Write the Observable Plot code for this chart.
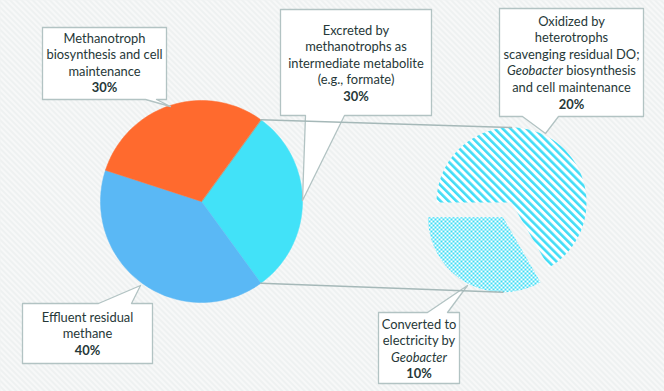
<!DOCTYPE html>
<html><head><meta charset="utf-8">
<script src="https://cdn.jsdelivr.net/npm/d3@7"></script>
<script src="https://cdn.jsdelivr.net/npm/@observablehq/plot@0.6"></script>
<style>
html,body{margin:0;padding:0;background:#f1f3f3;overflow:hidden;}
</style>
</head><body><div id="chart"></div>
<script>
// ---- data ----
const mainCategories = ["Excreted by methanotrophs as intermediate metabolite (e.g., formate)", "Effluent residual methane", "Methanotroph biosynthesis and cell maintenance"];
const mainValues = [30, 40, 30];
const mainColors = ["#42e2f8", "#5ab8f5", "#ff6a2e"];
const subCategories = ["Converted to electricity by Geobacter", "Oxidized by heterotrophs scavenging residual DO; Geobacter biosynthesis and cell maintenance"];
const subValues = [10, 20];
const subFills = ["url(#dots)", "url(#hatch)"];
const labelLines = [
  ["Methanotroph", "biosynthesis and cell", "maintenance"],
  ["Excreted by", "methanotrophs as", "intermediate metabolite", "(e.g., formate)"],
  ["Oxidized by", "heterotrophs", "scavenging residual DO;", "Geobacter biosynthesis", "and cell maintenance"],
  ["Effluent residual", "methane"],
  ["Converted to", "electricity by", "Geobacter"]
];
const labelPercents = ["30%", "30%", "20%", "40%", "10%"];

// ---- layout ----
const W = 664, H = 391;
const mainC = [201, 201], mainR = 101;
const subC = [511, 202], subR = 75, explode = 17;
const deg = Math.PI / 180;
// callout boxes: [x0, y0, x1, y1, side, baseL, baseR, tipX, tipY, textCx, firstLineY]
const boxes = [
  [42, 27, 166, 99, "bottom", 145, 156, 170, 106, 104, 38],
  [280, 9, 431, 115, "bottom", 305, 344, 302, 200, 355.5, 30],
  [499, 8, 643, 116, "bottom", 522, 558, 545, 133, 571, 21],
  [22, 303, 152, 363, "top", 98, 131, 140, 285, 87, 317],
  [378, 312, 459, 383, "top", 427, 447, 467, 285, 418.5, 324]
];
const lineGap = 16.6;

function arcPoly(cx, cy, r, a0, a1, id) {
  const n = Math.max(8, Math.ceil((a1 - a0) / deg / 2));
  const pts = [{id, x: cx, y: cy}];
  for (let i = 0; i <= n; i++) {
    const a = a0 + (a1 - a0) * i / n;
    pts.push({id, x: cx + r * Math.sin(a), y: cy - r * Math.cos(a)});
  }
  return pts;
}

const mainArcs = d3.pie().sort(null).startAngle(36 * deg).endAngle(36 * deg + 2 * Math.PI)(mainValues);
const subArcs = d3.pie().sort(null).startAngle(150 * deg).endAngle(150 * deg + 2 * Math.PI)(subValues);

const mainSlices = mainArcs.map((a, i) => arcPoly(mainC[0], mainC[1], mainR, a.startAngle, a.endAngle, mainCategories[i]));
const subCenters = subArcs.map((a, i) => {
  if (i === 0) {
    const mid = (a.startAngle + a.endAngle) / 2;
    return [subC[0] + explode * Math.sin(mid), subC[1] - explode * Math.cos(mid)];
  }
  return subC;
});
const subSlices = subArcs.map((a, i) => arcPoly(subCenters[i][0], subCenters[i][1], subR, a.startAngle, a.endAngle, subCategories[i]));

// connectors from the excreted slice to the secondary pie
const exc = mainArcs[0];
const connectors = [
  {id: "top", x: mainC[0] + mainR * Math.sin(exc.startAngle), y: mainC[1] - mainR * Math.cos(exc.startAngle)},
  {id: "top", x: subC[0], y: subC[1] - subR},
  {id: "bot", x: mainC[0] + mainR * Math.sin(exc.endAngle), y: mainC[1] - mainR * Math.cos(exc.endAngle)},
  {id: "bot", x: subCenters[0][0], y: subCenters[0][1] + subR}
];

const boxPolys = boxes.flatMap((b, i) => {
  const [x0, y0, x1, y1, side, bl, br, tx, ty] = b;
  const p = side === "bottom"
    ? [[x0, y0], [x1, y0], [x1, y1], [br, y1], [tx, ty], [bl, y1], [x0, y1]]
    : [[x0, y0], [bl, y0], [tx, ty], [br, y0], [x1, y0], [x1, y1], [x0, y1]];
  return p.map(([x, y]) => ({id: i, x, y}));
});

const textRows = [], pctRows = [];
boxes.forEach((b, i) => {
  const cx = b[9], y0 = b[10];
  labelLines[i].forEach((t, j) => textRows.push({x: cx, y: y0 + j * lineGap, t}));
  pctRows.push({x: cx, y: y0 + labelLines[i].length * lineGap, t: labelPercents[i]});
});

const marks = [
  Plot.frame({fill: "url(#bg)", stroke: "none"}),
  Plot.line(mainSlices.flat(), {x: "x", y: "y", z: "id", fill: "#7a8a8a", stroke: "none", curve: "linear-closed", ariaLabel: "shadow", dx: 2, dy: 3}),
  ...subSlices.map(s => Plot.line(s, {x: "x", y: "y", fill: "#7a8a8a", stroke: "none", curve: "linear-closed", ariaLabel: "shadow", dx: 2, dy: 3})),
  ...mainSlices.map((s, i) => Plot.line(s, {x: "x", y: "y", fill: mainColors[i], stroke: mainColors[i], strokeWidth: 0.5, curve: "linear-closed"})),
  ...subSlices.map((s, i) => Plot.line(s, {x: "x", y: "y", fill: subFills[i], stroke: "none", curve: "linear-closed"})),
  Plot.line(boxPolys, {x: "x", y: "y", z: "id", fill: "white", stroke: "#b2c3c3", strokeWidth: 1.3, curve: "linear-closed"}),
  Plot.line(connectors, {x: "x", y: "y", z: "id", stroke: "#a5b8b8", strokeWidth: 1.6}),
  Plot.text(textRows, {x: "x", y: "y", text: "t", fill: "#263838", fontSize: 12.9, fontFamily: "Lato"}),
  Plot.text(pctRows, {x: "x", y: "y", text: "t", fill: "#263838", fontSize: 12.9, fontWeight: "bold", fontFamily: "Lato"})
];

const svg = Plot.plot({
  width: W, height: H,
  margin: 0,
  x: {domain: [0, W], range: [0, W], axis: null},
  y: {domain: [0, H], range: [0, H], axis: null},
  style: {background: "#f1f3f3", fontFamily: "Lato"},
  marks
});

const defs = d3.select(svg).insert("defs", ":first-child");
defs.html(`
<filter id="blur" x="-20%" y="-20%" width="140%" height="140%"><feGaussianBlur stdDeviation="5"/></filter>
<pattern id="bg" patternUnits="userSpaceOnUse" width="4" height="4" patternTransform="rotate(-45)">
  <rect width="4" height="4" fill="#eef1f1"/><rect width="2" height="4" fill="#f7f8f8"/>
</pattern>
<pattern id="hatch" patternUnits="userSpaceOnUse" width="5.6" height="5.6" patternTransform="rotate(-45)">
  <rect width="5.6" height="5.6" fill="#ffffff"/><rect width="2.6" height="5.6" fill="#42ddf6"/>
</pattern>
<pattern id="dots" patternUnits="userSpaceOnUse" width="4" height="4">
  <rect width="4" height="4" fill="#ffffff"/>
  <rect x="0" y="0" width="2" height="2" fill="#3fdcf5"/>
  <rect x="2" y="2" width="2" height="2" fill="#3fdcf5"/>
</pattern>`);
d3.select(svg).selectAll('g[aria-label="shadow"]').attr("filter", "url(#blur)").attr("opacity", 0.4);
d3.select(svg).selectAll("text").each(function() {
  const t = this.textContent;
  if (t.startsWith("Geobacter")) {
    this.textContent = "";
    d3.select(this).append("tspan").attr("font-style", "italic").text("Geobacter");
    if (t.length > 9) d3.select(this).append("tspan").text(t.slice(9));
  }
});
document.getElementById("chart").appendChild(svg);
</script>
</body></html>
